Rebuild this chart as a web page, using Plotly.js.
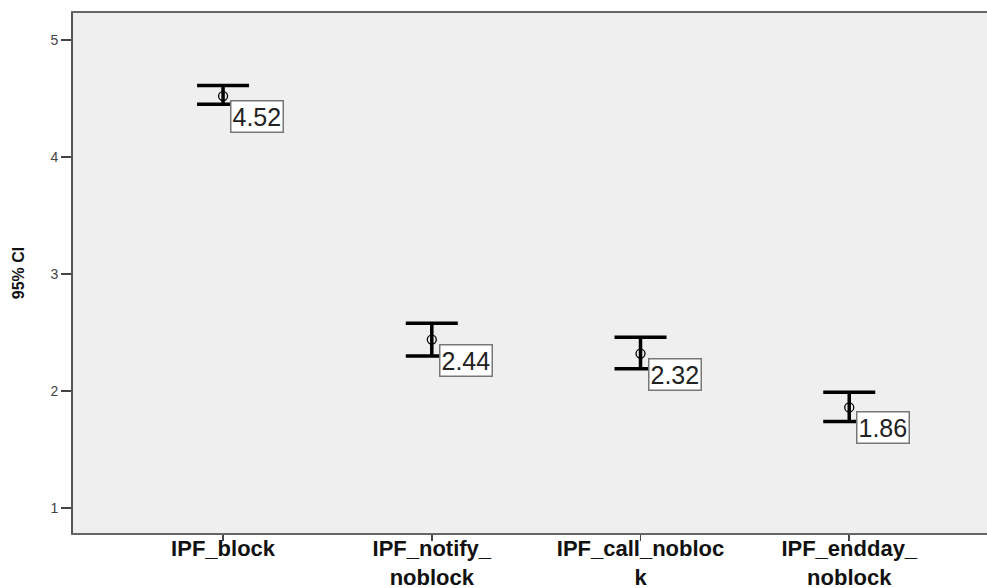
<!DOCTYPE html>
<html>
<head>
<meta charset="utf-8">
<script src="https://cdn.plot.ly/plotly-3.0.1.min.js"></script>
<style>html,body{margin:0;padding:0;background:#fff;}#chart{width:987px;height:588px;}</style>
</head>
<body>
<div id="chart"></div>
<script>
const categories = ["IPF_block", "IPF_notify_noblock", "IPF_call_noblock", "IPF_endday_noblock"];
const tickLabels = ["IPF_block", "IPF_notify_<br>noblock", "IPF_call_nobloc<br>k", "IPF_endday_<br>noblock"];
const means = [4.52, 2.44, 2.32, 1.86];
const upper = [4.61, 2.58, 2.46, 1.99];
const lower = [4.45, 2.30, 2.19, 1.74];
const meanLabels = ["4.52", "2.44", "2.32", "1.86"];

const trace = {
  type: "scatter",
  mode: "markers",
  x: categories,
  y: means,
  marker: {symbol: "circle-open", size: 9, color: "#000", line: {width: 1.3, color: "#000"}},
  error_y: {
    type: "data",
    symmetric: false,
    array: upper.map((u, i) => u - means[i]),
    arrayminus: lower.map((l, i) => means[i] - l),
    color: "#000",
    thickness: 3.5,
    width: 26
  },
  hoverinfo: "skip",
  showlegend: false
};

const annotations = categories.map((c, i) => ({
  x: c, y: means[i], xref: "x", yref: "y",
  text: meanLabels[i],
  showarrow: false,
  xanchor: "left", yanchor: "top",
  xshift: 7, yshift: -4,
  font: {family: "Liberation Sans, Arial, sans-serif", size: 25, color: "#222"},
  bgcolor: "#ffffff",
  bordercolor: "#777",
  borderwidth: 1.5,
  borderpad: 1
}));

const layout = {
  width: 987, height: 588,
  margin: {l: 73, r: 0, t: 13, b: 55},
  paper_bgcolor: "#ffffff",
  plot_bgcolor: "#efefef",
  xaxis: {
    type: "category",
    range: [-0.719, 3.66],
    tickvals: categories,
    ticktext: tickLabels,
    ticks: "outside", ticklen: 6, tickwidth: 1.5, tickcolor: "#444",
    ticklabelstandoff: -11,
    showline: true, linecolor: "#666", linewidth: 2, mirror: true,
    showgrid: false, zeroline: false,
    tickfont: {family: "Liberation Sans, Arial, sans-serif", size: 22, color: "#111", weight: "bold"}
  },
  yaxis: {
    range: [0.787, 5.23],
    tickvals: [1, 2, 3, 4, 5],
    ticks: "outside", ticklen: 10, tickwidth: 1.5, tickcolor: "#444",
    showline: true, linecolor: "#555", linewidth: 2,
    showgrid: false, zeroline: false,
    tickfont: {family: "Liberation Sans, Arial, sans-serif", size: 14, color: "#444"},
    title: {text: "<b>95% CI</b>", standoff: 22, font: {family: "Liberation Sans, Arial, sans-serif", size: 16, color: "#111"}}
  },
  annotations: annotations
};

Plotly.newPlot("chart", [trace], layout, {displayModeBar: false, staticPlot: true});
</script>
</body>
</html>
